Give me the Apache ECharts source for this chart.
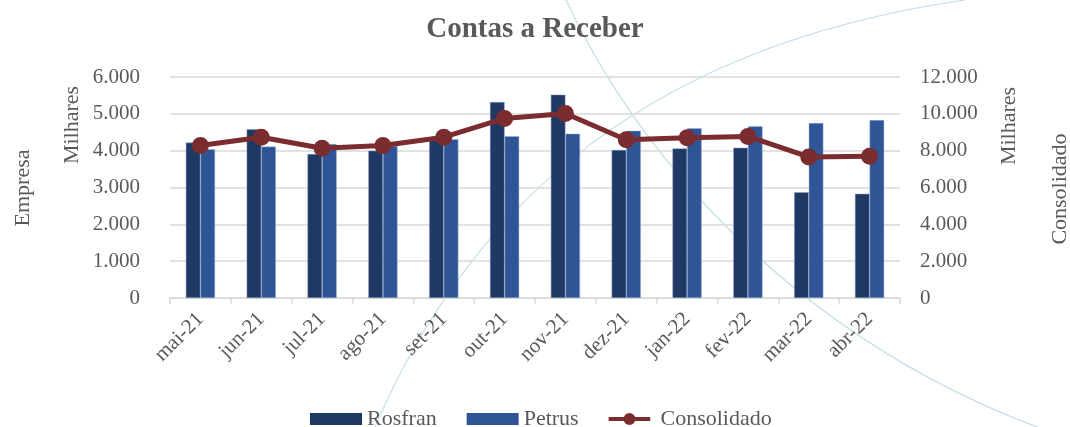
<!DOCTYPE html>
<html><head><meta charset="utf-8">
<script src="https://cdn.jsdelivr.net/npm/echarts@6/dist/echarts.min.js"></script>
<style>html,body{margin:0;padding:0;background:#fff}#c{width:1070px;height:427px}</style>
</head><body><div id="c"></div>
<script>
const categories = ['mai-21','jun-21','jul-21','ago-21','set-21','out-21','nov-21','dez-21','jan-22','fev-22','mar-22','abr-22'];
const rosfran = [4220,4580,3910,4000,4330,5320,5520,4020,4060,4080,2870,2830];
const petrus = [4040,4110,4180,4130,4310,4390,4460,4540,4610,4660,4750,4830];
const consolidado = [8280,8730,8130,8280,8730,9750,10020,8590,8700,8770,7660,7700];
const leftTicks = {min:0,max:6000,interval:1000};
const rightTicks = {min:0,max:12000,interval:2000};

const FONT = '"Liberation Serif", "DejaVu Serif", serif';
const GRAY = '#595959';
const DECO = '#c4dde9';
const fmt = v => v === 0 ? '0' : String(v).replace(/\B(?=(\d{3})+(?!\d))/g, '.');
const lineIcon = 'path://M0,5 L52,5 L52,10 L0,10 Z M18.5,7.5 A7.5,7.5 0 1,1 33.5,7.5 A7.5,7.5 0 1,1 18.5,7.5 Z';

const chart = echarts.init(document.getElementById('c'), null, {renderer:'canvas'});
chart.setOption({
  animation:false,
  backgroundColor:'#fff',
  textStyle:{fontFamily:FONT},
  title:{text:'Contas a Receber',left:'center',top:10,
    textStyle:{fontFamily:FONT,fontSize:29,fontWeight:'bold',color:GRAY}},
  graphic:[
    {type:'bezierCurve',z:-1,silent:true,shape:{x1:375,y1:427,cpx1:460,cpy1:230,cpx2:620,cpy2:50,x2:965,y2:0},style:{stroke:DECO,lineWidth:1.2,fill:null}},
    {type:'bezierCurve',z:-1,silent:true,shape:{x1:566,y1:0,cpx1:640,cpy1:160,cpx2:800,cpy2:340,x2:1045,y2:430},style:{stroke:DECO,lineWidth:1.2,fill:null}},
    {type:'text',rotation:Math.PI/2,x:23,y:188,style:{text:'Empresa',font:'22px '+FONT,fill:GRAY,align:'center',verticalAlign:'middle'}},
    {type:'text',rotation:Math.PI/2,x:72,y:125,style:{text:'Milhares',font:'22px '+FONT,fill:GRAY,align:'center',verticalAlign:'middle'}},
    {type:'text',rotation:Math.PI/2,x:1009,y:126,style:{text:'Milhares',font:'22px '+FONT,fill:GRAY,align:'center',verticalAlign:'middle'}},
    {type:'text',rotation:Math.PI/2,x:1060,y:189,style:{text:'Consolidado',font:'22px '+FONT,fill:GRAY,align:'center',verticalAlign:'middle'}}
  ],
  legend:{top:403,left:305,itemWidth:52,itemHeight:12,itemGap:30,
    textStyle:{fontFamily:FONT,fontSize:22,color:GRAY},
    itemStyle:{borderWidth:0},
    data:[{name:'Rosfran',icon:'rect'},{name:'Petrus',icon:'rect'},{name:'Consolidado',icon:lineIcon}]},
  grid:{left:170,right:170,top:77,bottom:129,containLabel:false},
  xAxis:{type:'category',data:categories,boundaryGap:true,
    axisLine:{lineStyle:{color:'#d9d9d9',width:1.5}},
    axisTick:{show:true,length:6,alignWithLabel:false,lineStyle:{color:'#d9d9d9',width:1.5}},
    axisLabel:{rotate:45,fontFamily:FONT,fontSize:21,color:GRAY,margin:18,interval:0}},
  yAxis:[
    {type:'value',min:leftTicks.min,max:leftTicks.max,interval:leftTicks.interval,
     axisLine:{show:false},axisTick:{show:false},
     splitLine:{lineStyle:{color:'#d9d9d9',width:1.5}},
     axisLabel:{formatter:fmt,fontFamily:FONT,fontSize:21,color:GRAY,margin:30}},
    {type:'value',min:rightTicks.min,max:rightTicks.max,interval:rightTicks.interval,
     axisLine:{show:false},axisTick:{show:false},splitLine:{show:false},
     axisLabel:{formatter:fmt,fontFamily:FONT,fontSize:21,color:GRAY,margin:20}}
  ],
  series:[
    {name:'Rosfran',type:'bar',data:rosfran,yAxisIndex:0,barGap:'0%',barCategoryGap:'52%',
     itemStyle:{color:'#203864',borderColor:'#8ea0c0',borderWidth:0.5}},
    {name:'Petrus',type:'bar',data:petrus,yAxisIndex:0,
     itemStyle:{color:'#2f5597',borderColor:'#9fb3d6',borderWidth:0.5}},
    {name:'Consolidado',type:'line',data:consolidado,yAxisIndex:1,
     symbol:'circle',symbolSize:17,
     lineStyle:{color:'#7b2c2f',width:5},itemStyle:{color:'#7b2c2f'}}
  ]
});
</script></body></html>
